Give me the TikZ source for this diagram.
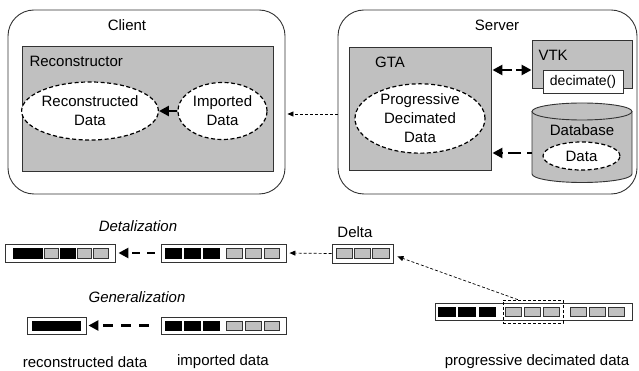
\documentclass[tikz,border=0pt]{standalone}
\usepackage{fontspec}
\setmainfont{Liberation Sans}
\usetikzlibrary{arrows.meta,shapes.geometric,calc}
\definecolor{boxgray}{HTML}{C0C0C0}
\definecolor{edge}{HTML}{333333}

\begin{document}
\begin{tikzpicture}[x=1pt,y=1pt,
  font=\fontsize{15}{19}\selectfont,
  frame/.style={draw=edge, line width=0.9pt, rounded corners=26pt, inner sep=0pt},
  module/.style={draw=edge, fill=boxgray, line width=0.9pt, inner sep=0pt},
  datum/.style={ellipse, draw=black, fill=white, line width=1.2pt,
                dash pattern=on 4pt off 2.5pt, inner sep=0pt, align=center},
  heavy/.style={line width=2.6pt, dash pattern=on 11pt off 6pt,
                -{Triangle[length=10pt,width=10pt]}},
  light/.style={line width=0.7pt, dash pattern=on 3pt off 2pt,
                -{Triangle[length=6pt,width=5pt]}},
  bar/.style={draw=edge, fill=white, line width=0.9pt, inner sep=0pt},
  dk/.style={fill=black},
  lt/.style={fill=boxgray, draw=edge, line width=0.7pt},
]
\useasboundingbox (0,0) rectangle (639,-371);

% ---------- client side ----------
\node[frame, minimum width=277pt, minimum height=184pt] (client) at (146.5,-102) {};
\node (clientlabel) at (127,-25) {Client};
\node[module, minimum width=251pt, minimum height=125pt] (recon) at (147.5,-108.5) {};
\node[anchor=west] (reconlabel) at (26,-61) {Reconstructor};
\node[datum, minimum width=130pt, minimum height=58pt] (rdata) at (90,-111) {Reconstructed\\Data};
\node[datum, minimum width=89pt, minimum height=57pt] (idata) at (222.5,-111) {Imported\\Data};

% ---------- server side ----------
\node[frame, minimum width=299pt, minimum height=184pt] (server) at (487.5,-102) {};
\node (serverlabel) at (497,-25) {Server};
\node[module, minimum width=142pt, minimum height=123pt] (gta) at (420,-108.5) {};
\node (gtalabel) at (390,-62) {GTA};
\node[datum, minimum width=130pt, minimum height=63pt] (pdata) at (420,-118.5) {Progressive\\Decimated\\Data};
\node[module, minimum width=100pt, minimum height=48pt] (vtk) at (582,-64) {};
\node[anchor=west] (vtklabel) at (535,-55) {VTK};
\node[draw=edge, fill=white, line width=0.9pt, inner sep=0pt, minimum width=80pt,
      minimum height=23pt, font=\fontsize{14}{16}\selectfont] (decim) at (583,-82) {decimate()};

% database drum
\draw[draw=edge, fill=boxgray, line width=0.9pt]
  (532,-111.5) -- (532,-174) arc[start angle=180, end angle=360, x radius=50pt, y radius=8.5pt]
  -- (632,-111.5);
\draw[draw=edge, fill=boxgray, line width=0.9pt]
  (582,-111.5) ellipse[x radius=50pt, y radius=8.5pt];
\node (dblabel) at (582,-130) {Database};
\node[datum, minimum width=77pt, minimum height=28pt] (ddata) at (581.5,-156) {Data};
\coordinate (dbside) at (532,-153);

% ---------- connectors in the upper part ----------
\draw[heavy, dash pattern=on 20pt off 6pt] (idata.west) -- (rdata.east);
\draw[heavy, {Triangle[length=10pt,width=10pt]}-{Triangle[length=10pt,width=10pt]},
      dash pattern=on 10pt off 4pt, shorten <=1pt]
  (gta.east |- 0,-70) -- (vtk.west |- 0,-70);
\draw[heavy, dash pattern=on 5pt off 6pt on 13pt off 6pt, shorten >=1pt]
  (dbside) -- (gta.east |- dbside);
\draw[light, shorten >=2pt] (server.west |- 0,-114) -- (client.east |- 0,-114);

% ---------- data bars ----------
% detalization: result
\node[bar, minimum width=110pt, minimum height=18pt] (rbarA) at (60,-253) {};
\fill[dk] (12.7,-248) rectangle (43.3,-258.5);
\draw[lt] (44.8,-248.3) rectangle (58.8,-258.2);
\fill[dk] (60,-248) rectangle (76,-258.5);
\draw[lt] (77.2,-248.3) rectangle (91.4,-258.2);
\draw[lt] (92.9,-248.3) rectangle (107.9,-258.2);

% detalization: imported
\node[bar, minimum width=125pt, minimum height=18pt] (ibarA) at (223.5,-253) {};
\foreach \a/\b in {165/181.5,183.5/200.5,202.5/219.5} \fill[dk] (\a,-248) rectangle (\b,-258.5);
\foreach \a/\b in {226.5/242.5,245/261.5,264/279.5} \draw[lt] (\a,-248.3) rectangle (\b,-258.2);

% generalization: result
\node[bar, minimum width=59pt, minimum height=17pt] (rbarB) at (56.5,-325.5) {};
\fill[dk] (32,-321) rectangle (81,-331);

% generalization: imported
\node[bar, minimum width=125pt, minimum height=17pt] (ibarB) at (223.5,-325.5) {};
\foreach \a/\b in {165/181.5,183.5/200.5,202.5/219.5} \fill[dk] (\a,-321) rectangle (\b,-331);
\foreach \a/\b in {226.5/242.5,245/261.5,264/279.5} \draw[lt] (\a,-321.3) rectangle (\b,-330.7);

% delta
\node[bar, minimum width=61pt, minimum height=19pt] (delta) at (362.5,-253.5) {};
\foreach \a/\b in {336.5/352,354.5/370,372.5/389.5} \draw[lt] (\a,-248.8) rectangle (\b,-258.7);

% progressive decimated data
\node[bar, minimum width=197pt, minimum height=17pt] (pbar) at (533.5,-311.5) {};
\foreach \a/\b in {437.5/455.5,458/476,478.5/496} \fill[dk] (\a,-307) rectangle (\b,-317);
\foreach \a/\b in {505/521.5,524/540.5,543/559.5,570/586.5,589/605.5,608/624.5}
  \draw[lt] (\a,-307.3) rectangle (\b,-316.7);
\node[draw=black, line width=0.7pt, dash pattern=on 3pt off 2pt, inner sep=0pt,
      minimum width=60pt, minimum height=23pt] (sel) at (533,-311.5) {};

% ---------- labels in the lower part ----------
\node[font=\fontsize{15}{19}\selectfont\itshape] (detlabel) at (138,-226) {Detalization};
\node[font=\fontsize{15}{19}\selectfont\itshape] (genlabel) at (137,-297) {Generalization};
\node (deltalabel) at (355,-232) {Delta};
\node (rlabel) at (85,-362) {reconstructed data};
\node (ilabel) at (223,-362) {imported data};
\node (plabel) at (537,-362) {progressive decimated data};

% ---------- connectors in the lower part ----------
\draw[heavy, dash pattern=on 8pt off 7pt, shorten <=6pt, shorten >=3pt] (ibarA.west) -- (rbarA.east);
\draw[heavy, dash pattern=on 10pt off 8pt, shorten <=12pt, shorten >=2pt] (ibarB.west) -- (rbarB.east);
\draw[light, shorten >=3pt] (delta.west) -- (ibarA.east);
\draw[light] ($(sel.north west)!0.25!(sel.north east)$) -- ([xshift=4pt,yshift=-3pt]delta.east);
\end{tikzpicture}
\end{document}
